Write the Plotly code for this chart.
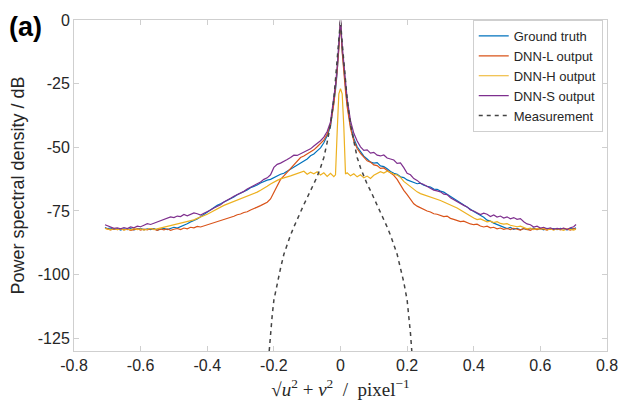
import numpy as np
import plotly.graph_objects as go

# radial frequency grid (|x| values) shared by the four DNN / truth curves
r_grid = [0.0, 0.005, 0.01, 0.015, 0.02] + [round(0.03 + 0.01 * k, 3) for k in range(68)] + [0.707]

# ---- right half (x > 0) ----
gt_right = [0, -12, -20, -27, -33,
    -41.5, -46.5, -49.8, -51.6, -53.5, -54.6, -55.8, -56.2, -56.0, -57.3, -57.6, -58.4, -59.5, -60.2, -60.6,
    -61.6, -61.9, -62.8, -63.2, -63.6, -64.3, -64.1, -64.9, -65.3, -65.6, -66.4, -66.5, -67.2, -67.6, -68.4,
    -69.2, -70.3, -70.8, -71.7, -72.5, -73.4, -74.3, -75.2, -75.9, -76.9, -77.5, -78.6, -79.0, -79.8, -80.3,
    -81.0, -81.4, -81.9, -81.5, -82.2, -81.8, -82.4, -81.9, -82.3, -82.0, -81.7, -82.3, -82.0, -82.4, -81.8,
    -82.2, -81.9, -82.3, -81.8, -82.1, -82.4, -81.9, -82.0, -81.6]
dnnl_right = [0, -12.5, -21, -28, -34,
    -42.5, -47.5, -50.5, -52.4, -54.0, -55.3, -55.8, -56.9, -57.2, -58.3, -58.1, -59.0, -59.8, -61.0, -62.6,
    -64.8, -66.9, -68.6, -70.4, -72.2, -73.1, -73.8, -74.6, -75.0, -75.4, -76.1, -76.3, -76.8, -77.2, -77.0,
    -77.9, -78.3, -78.6, -79.2, -79.0, -79.7, -80.1, -80.4, -80.2, -80.9, -81.3, -81.0, -81.6, -81.4, -82.0,
    -81.7, -82.2, -81.9, -82.3, -81.8, -82.1, -82.5, -81.9, -82.2, -82.6, -82.0, -82.3, -81.8, -82.2, -82.5,
    -81.9, -82.3, -82.0, -82.4, -81.8, -82.2, -82.5, -81.9, -82.1]
dnnh_right = [-27, -29, -42, -60.5, -60.0,
    -61.2, -60.4, -61.6, -60.8, -62.0, -61.3, -62.2, -61.0, -60.3, -59.6, -60.1, -59.4, -59.9, -60.6, -60.9,
    -61.8, -63.4, -64.5, -65.6, -66.4, -67.5, -68.2, -68.6, -69.3, -69.5, -70.1, -70.4, -70.9, -71.5, -72.0,
    -72.6, -73.1, -73.8, -74.6, -75.3, -76.2, -77.0, -77.8, -78.4, -78.1, -78.7, -79.3, -79.0, -79.6, -79.2,
    -79.9, -80.2, -80.0, -80.6, -80.9, -81.2, -81.0, -81.6, -82.0, -81.7, -82.3, -81.9, -82.2, -81.8, -82.4,
    -82.1, -82.5, -81.9, -82.3, -82.6, -82.0, -82.3, -82.5, -82.2]
dnns_right = [0, -10, -18, -25, -31,
    -39.5, -44.5, -47.5, -49.8, -51.2, -51.0, -52.3, -52.0, -53.1, -53.4, -53.0, -54.2, -54.6, -55.0, -56.3,
    -56.1, -58.0, -60.2, -60.8, -62.3, -63.0, -64.1, -64.6, -65.4, -65.9, -66.8, -67.1, -67.5, -68.4, -68.6,
    -69.8, -70.6, -71.3, -71.9, -72.8, -73.4, -74.6, -75.0, -75.8, -76.4, -75.9, -76.3, -77.2, -76.6, -77.4,
    -77.0, -77.8, -77.3, -78.1, -77.6, -78.3, -78.0, -79.2, -80.1, -80.4, -81.3, -81.0, -81.7, -81.4, -82.0,
    -81.6, -82.2, -81.8, -82.1, -81.7, -82.3, -81.6, -81.2, -80.3]

# ---- left half (x < 0), indexed by |x| ----
gt_left = [0, -12, -20.5, -27.5, -33.5,
    -41.8, -45.5, -48.2, -50.2, -51.4, -52.6, -53.3, -54.6, -55.4, -56.3, -56.8, -57.9, -58.6, -59.4, -60.2,
    -60.6, -61.4, -61.9, -62.6, -62.9, -63.3, -64.0, -64.8, -65.4, -65.9, -66.8, -67.4, -68.1, -68.6, -69.5,
    -70.2, -70.8, -71.6, -72.2, -72.8, -73.6, -74.6, -75.7, -76.4, -77.3, -78.1, -78.8, -79.3, -80.0, -80.6,
    -81.2, -81.7, -81.4, -82.0, -82.3, -81.8, -82.2, -82.5, -81.9, -82.3, -82.0, -82.4, -81.8, -82.1, -82.4,
    -81.9, -82.3, -82.0, -82.5, -81.9, -82.2, -81.7, -81.9, -81.5]
dnnl_left = [0, -11.5, -20, -27, -33,
    -41.0, -44.8, -47.2, -48.6, -49.8, -51.0, -51.8, -52.7, -53.4, -54.0, -55.2, -56.6, -58.3, -59.8, -61.2,
    -62.6, -65.0, -67.8, -70.3, -71.6, -72.4, -72.9, -73.5, -74.2, -74.6, -75.3, -75.6, -76.2, -76.5, -77.1,
    -77.4, -77.8, -78.3, -78.6, -79.2, -79.5, -80.1, -80.4, -80.9, -81.3, -81.1, -81.6, -81.4, -82.0, -81.7,
    -82.3, -81.9, -82.2, -82.6, -82.0, -82.4, -82.1, -82.6, -82.2, -81.9, -82.4, -82.1, -82.5, -82.0, -82.3,
    -82.6, -82.1, -82.4, -81.9, -82.3, -82.0, -82.4, -82.1, -81.8]
dnnh_left = [-27, -29, -44, -60.8, -61.5,
    -60.2, -61.4, -60.0, -60.9, -59.6, -60.4, -59.8, -60.6, -59.4, -59.9, -60.3, -60.8, -61.2, -61.6, -62.1,
    -62.4, -63.0, -63.6, -64.4, -65.3, -66.2, -66.9, -67.6, -68.1, -68.8, -69.2, -69.7, -70.3, -70.6, -71.2,
    -71.6, -72.3, -72.8, -73.5, -74.1, -74.8, -75.6, -76.3, -77.0, -77.4, -77.9, -78.5, -78.8, -79.1, -79.4,
    -79.7, -80.0, -80.3, -80.6, -81.0, -81.4, -81.7, -82.0, -82.3, -81.9, -82.2, -82.5, -82.0, -82.3, -81.9,
    -82.4, -82.1, -82.5, -82.0, -82.3, -81.9, -82.4, -82.2, -81.9]
dnns_left = [0, -10, -18.5, -25.5, -31.5,
    -40.0, -43.8, -46.0, -47.4, -48.6, -49.5, -50.6, -51.2, -52.0, -52.6, -53.2, -53.1, -54.0, -54.8, -55.6,
    -56.2, -56.7, -57.9, -60.8, -62.0, -62.6, -63.6, -64.3, -64.9, -65.8, -66.4, -67.3, -68.0, -68.6, -69.2,
    -70.0, -70.9, -71.5, -72.6, -73.1, -73.8, -74.6, -75.4, -75.9, -76.6, -76.1, -75.8, -76.5, -76.9, -76.4,
    -77.2, -77.0, -77.6, -77.3, -77.9, -78.4, -78.9, -79.4, -79.8, -80.3, -80.0, -80.6, -81.2, -81.0, -81.6,
    -81.3, -81.9, -81.5, -82.0, -81.6, -81.8, -81.2, -80.8, -80.4]

# measurement (symmetric)
meas_r = [0, 0.005, 0.01, 0.015, 0.02, 0.03, 0.04, 0.05, 0.06, 0.07, 0.08, 0.09, 0.10, 0.11, 0.12,
          0.13, 0.14, 0.15, 0.16, 0.17, 0.18, 0.19, 0.20, 0.205, 0.21, 0.214]
meas_db = [0, -9, -17, -24, -31, -41, -48, -54, -58, -61.5, -64.5, -67, -69.8, -72.5, -75.3,
           -78.2, -81.3, -84.5, -88, -92, -97.5, -103, -110, -116, -123, -130]

x_ticks = [-0.8, -0.6, -0.4, -0.2, 0, 0.2, 0.4, 0.6, 0.8]
x_ticktext = ["-0.8", "-0.6", "-0.4", "-0.2", "0", "0.2", "0.4", "0.6", "0.8"]
y_ticks = [-125, -100, -75, -50, -25, 0]
y_ticktext = ["-125", "-100", "-75", "-50", "-25", "0"]


def full(left, right, r):
    xs = [-v for v in r[::-1]] + list(r[1:])
    ys = list(left[::-1]) + list(right[1:])
    return xs, ys


series = [
    ("Ground truth", gt_left, gt_right, "#0072BD"),
    ("DNN-L output", dnnl_left, dnnl_right, "#D95319"),
    ("DNN-H output", dnnh_left, dnnh_right, "#EDB120"),
    ("DNN-S output", dnns_left, dnns_right, "#7E2F8E"),
]

fig = go.Figure()
for name, lft, rgt, col in series:
    xs, ys = full(lft, rgt, r_grid)
    fig.add_trace(go.Scatter(x=xs, y=ys, mode="lines", name=name,
                             line=dict(color=col, width=1.2)))

mx, my = full(meas_db, meas_db, meas_r)
fig.add_trace(go.Scatter(x=mx, y=my, mode="lines", name="Measurement",
                         line=dict(color="#444444", width=1.5, dash="4px,4px")))

axis_common = dict(showline=True, mirror="ticks", linecolor="#cfcfcf", linewidth=1,
                   ticks="inside", ticklen=5, tickcolor="#cfcfcf", showgrid=False,
                   zeroline=False, tickfont=dict(family="Liberation Sans, Arial", size=16, color="#262626"))

fig.update_layout(
    width=636, height=419,
    margin=dict(l=74, r=29, t=18, b=68),
    paper_bgcolor="white", plot_bgcolor="white",
    xaxis=dict(range=[-0.8, 0.8], tickmode="array", tickvals=x_ticks, ticktext=x_ticktext,
               title=dict(text="√<i>u</i><sup>2</sup> + <i>v</i><sup>2</sup>  /  pixel<sup>−1</sup>",
                          font=dict(family="Liberation Serif, DejaVu Serif, serif", size=19, color="#262626"),
                          standoff=9),
               **axis_common),
    yaxis=dict(range=[-130, 0], tickmode="array", tickvals=y_ticks, ticktext=y_ticktext,
               title=dict(text="Power spectral density / dB",
                          font=dict(family="Liberation Sans, Arial", size=18, color="#262626"),
                          standoff=8),
               **axis_common),
    legend=dict(x=0.992, y=1.0, xanchor="right", yanchor="top",
                bordercolor="#cfcfcf", borderwidth=1, bgcolor="white",
                font=dict(family="Liberation Sans, Arial", size=13, color="#262626"),
                itemwidth=30, tracegroupgap=0),
    showlegend=True,
)

fig.add_annotation(text="<b>(a)</b>", xref="paper", yref="paper", x=-0.126, y=1.03,
                   xanchor="left", yanchor="top", showarrow=False,
                   font=dict(family="Liberation Sans, Arial", size=27, color="black"))

fig.write_html("out.html")
